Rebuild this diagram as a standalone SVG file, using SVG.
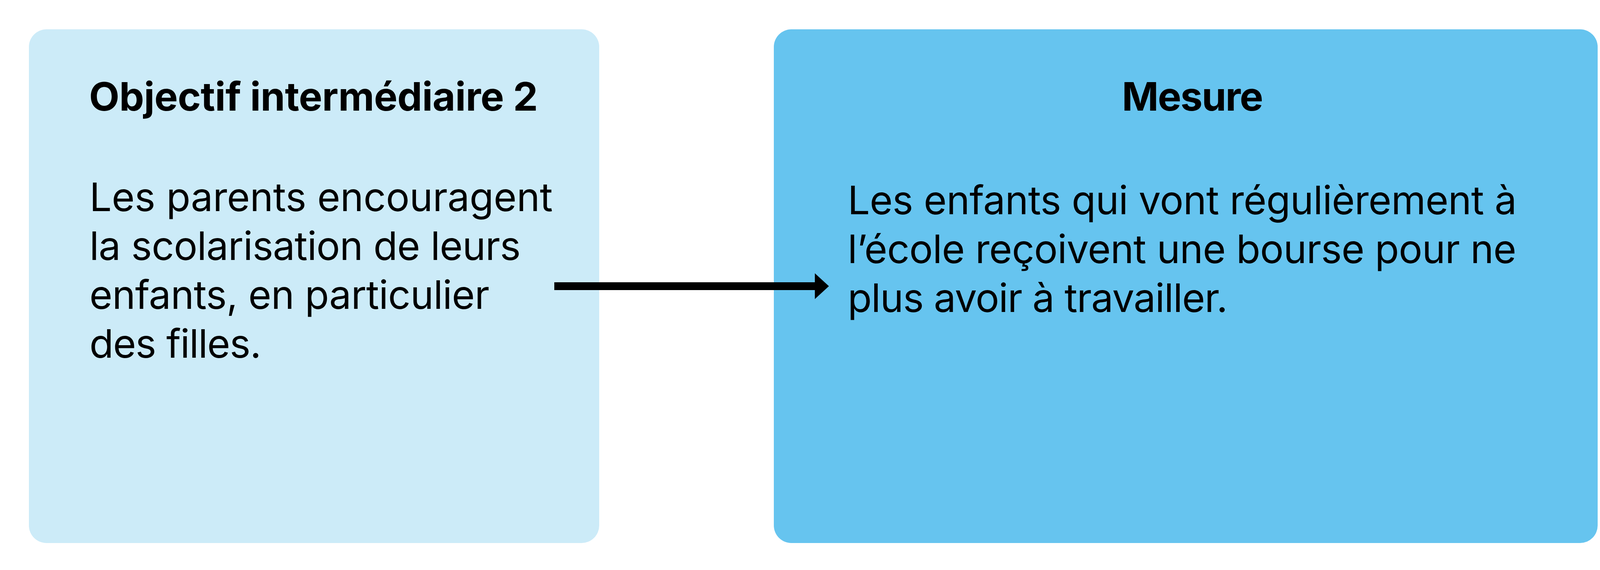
<svg xmlns="http://www.w3.org/2000/svg" width="4167" height="1458" viewBox="0 0 4167 1458">
<defs>
<style>
.title{font-family:Inter,"Liberation Sans",sans-serif;font-weight:700;font-size:101px;fill:#000}
.body{font-family:Inter,"Liberation Sans",sans-serif;font-weight:400;font-size:101px;fill:#000}
</style>
<marker id="ah" viewBox="0 0 36 66" refX="0" refY="33" markerWidth="36" markerHeight="66" markerUnits="userSpaceOnUse" orient="auto">
<path d="M0,0 L36,33 L0,66 Z" fill="#000"/>
</marker>
</defs>
<rect width="4167" height="1458" fill="#fff"/>
<g id="node-objectif">
<rect x="74" y="75" width="1460" height="1314" rx="45" ry="45" fill="#CCEBF8"/>
<text class="title" x="228" y="283" textLength="1149">Objectif intermédiaire 2</text>
<text class="body" x="229" y="540" textLength="1186">Les parents encouragent</text>
<text class="body" x="229" y="665" textLength="1104">la scolarisation de leurs</text>
<text class="body" x="229" y="790" textLength="1024">enfants, en particulier</text>
<text class="body" x="229" y="915" textLength="440">des filles.</text>
</g>
<g id="node-mesure">
<rect x="1981" y="75" width="2109" height="1314" rx="45" ry="45" fill="#66C4EF"/>
<text class="title" x="3053" y="283" text-anchor="middle" textLength="362">Mesure</text>
<text class="body" x="2170" y="548" textLength="1713">Les enfants qui vont régulièrement à</text>
<text class="body" x="2170" y="673" textLength="1712">l’école reçoivent une bourse pour ne</text>
<text class="body" x="2170" y="798" textLength="973">plus avoir à travailler.</text>
</g>
<g id="connectors">
<line x1="1419" y1="732" x2="2086" y2="732" stroke="#000" stroke-width="20" marker-end="url(#ah)"/>
</g>
</svg>
